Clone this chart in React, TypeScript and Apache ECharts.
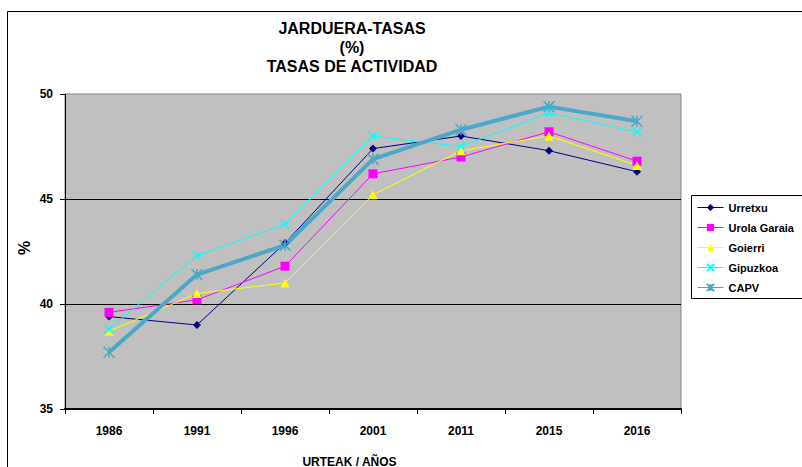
import React, { useEffect, useRef } from "react";
import * as echarts from "echarts";

const categories = ["1986", "1991", "1996", "2001", "2011", "2015", "2016"];
const urretxu = [39.4, 39.0, 42.9, 47.4, 48.0, 47.3, 46.3];
const urolaGaraia = [39.6, 40.2, 41.8, 46.2, 47.0, 48.2, 46.8];
const goierri = [38.7, 40.5, 41.0, 45.2, 47.3, 48.0, 46.6];
const gipuzkoa = [38.8, 42.3, 43.8, 48.0, 47.5, 49.1, 48.2];
const capv = [37.7, 41.4, 42.8, 46.9, 48.3, 49.4, 48.7];
const seriesNames = ["Urretxu", "Urola Garaia", "Goierri", "Gipuzkoa", "CAPV"];
const yTicks = { min: 35, max: 50, interval: 5 };

const FONT = "'Liberation Sans', Arial, sans-serif";
const X_PATH = "path://M0,0L10,10M10,0L0,10";
const STAR_PATH = "path://M0,0L10,10M10,0L0,10M5,0L5,10";

export default function App() {
  const ref = useRef<HTMLDivElement>(null);
  useEffect(() => {
    if (!ref.current) return;
    const chart = echarts.init(ref.current, undefined, { renderer: "svg" });
    const mk = (name: string, data: number[], color: string, symbol: string, size: number, width: number, stroke = false) => ({
      name,
      type: "line",
      data,
      symbol,
      symbolSize: size,
      lineStyle: { color, width },
      itemStyle: stroke
        ? { color: "rgba(0,0,0,0)", borderColor: color, borderWidth: 1.5 }
        : { color },
      emphasis: { disabled: true },
    });
    chart.setOption({
      animation: false,
      textStyle: { fontFamily: FONT },
      grid: {
        left: 65,
        top: 94,
        width: 616,
        height: 315,
        show: true,
        backgroundColor: "#C0C0C0",
        borderColor: "#808080",
        borderWidth: 1,
      },
      legend: seriesNames.map((n, i) => ({
        orient: "vertical",
        left: 697,
        top: 202 + 20 * i,
        itemWidth: 26,
        itemHeight: 9,
        itemTextGap: 5,
        padding: 0,
        selectedMode: false,
        lineStyle: { width: 1 },
        textStyle: { fontFamily: FONT, fontSize: 11, fontWeight: "bold", color: "#000" },
        data: [n],
      })),
      xAxis: {
        type: "category",
        data: categories,
        boundaryGap: true,
        axisLine: { lineStyle: { color: "#000", width: 2 } },
        axisTick: { show: true, alignWithLabel: false, interval: 0, length: 5, lineStyle: { color: "#000" } },
        axisLabel: { fontFamily: FONT, fontSize: 12, fontWeight: "bold", color: "#000", margin: 16, interval: 0 },
        splitLine: { show: false },
      },
      yAxis: {
        type: "value",
        min: yTicks.min,
        max: yTicks.max,
        interval: yTicks.interval,
        axisLine: { show: true, lineStyle: { color: "#000", width: 1 } },
        axisTick: { show: true, length: 5, lineStyle: { color: "#000" } },
        axisLabel: { fontFamily: FONT, fontSize: 12, fontWeight: "bold", color: "#000", margin: 12 },
        splitLine: { show: true, showMaxLine: false, showMinLine: false, lineStyle: { color: "#000", width: 1 } },
      },
      graphic: [
        {
          type: "rect",
          shape: { x: 7.5, y: 11.5, width: 1000, height: 1000 },
          style: { fill: "none", stroke: "#000", lineWidth: 1 },
          silent: true,
          z: -10,
        },
        {
          type: "rect",
          shape: { x: 691.5, y: 195.5, width: 200, height: 103 },
          style: { fill: "#fff", stroke: "#000", lineWidth: 1 },
          silent: true,
          z: -1,
        },
        ...[
          ["JARDUERA-TASAS", 28],
          ["(%)", 47],
          ["TASAS DE ACTIVIDAD", 66],
        ].map(([t, y]) => ({
          type: "text",
          x: 352,
          y: y as number,
          style: {
            text: t as string,
            fontFamily: FONT,
            fontSize: 16,
            fontWeight: "bold",
            fill: "#000",
            align: "center",
            verticalAlign: "middle",
          },
        })),
        {
          type: "text",
          x: 24,
          y: 248,
          rotation: Math.PI / 2,
          style: {
            text: "%",
            fontFamily: FONT,
            fontSize: 16,
            fontWeight: "bold",
            fill: "#000",
            align: "center",
            verticalAlign: "middle",
          },
        },
        {
          type: "text",
          x: 349.5,
          y: 461.5,
          style: {
            text: "URTEAK / AÑOS",
            fontFamily: FONT,
            fontSize: 12,
            fontWeight: "bold",
            fill: "#000",
            align: "center",
            verticalAlign: "middle",
          },
        },
      ],
      series: [
        mk(seriesNames[0], urretxu, "#000080", "diamond", 8, 1),
        mk(seriesNames[1], urolaGaraia, "#FF00FF", "rect", 9, 1),
        mk(seriesNames[2], goierri, "#FFFF00", "triangle", 9, 1),
        mk(seriesNames[3], gipuzkoa, "#00FFFF", X_PATH, 8, 1, true),
        mk(seriesNames[4], capv, "#4BA8C8", STAR_PATH, 11, 4, true),
      ],
    });
    return () => chart.dispose();
  }, []);
  return <div ref={ref} style={{ position: "absolute", left: 0, top: 0, width: 802, height: 467 }} />;
}
